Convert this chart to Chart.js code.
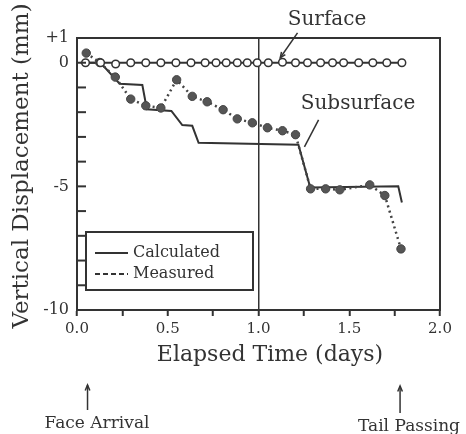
<!DOCTYPE html>
<html>
<head>
<meta charset="utf-8">
<script src="https://cdn.jsdelivr.net/npm/chart.js@4.4.0/dist/chart.umd.min.js"></script>
<style>
html, body { margin: 0; padding: 0; background: #fff; }
</style>
</head>
<body>
<canvas id="myChart" width="466" height="434"></canvas>
<script>
// Surface (open circles on the zero line)
const surfaceDays = [0.047, 0.13, 0.213, 0.296, 0.379, 0.462, 0.545, 0.628, 0.706, 0.766, 0.822, 0.883,
                     0.938, 0.993, 1.054, 1.132, 1.204, 1.27, 1.342, 1.408, 1.469, 1.552, 1.63, 1.707, 1.79];
const surfaceMm = [0, 0, -0.05, 0, 0, 0, 0, 0, 0, 0, 0, 0,
                   0, 0, 0, 0.02, 0, 0, 0, 0, 0, 0, 0, 0, 0];
const surfaceCalcDays = [0.02, 1.81];
const surfaceCalcMm = [0, 0];

// Subsurface
const subCalcDays = [0.05, 0.13, 0.235, 0.36, 0.385, 0.52, 0.58, 0.635, 0.67, 1.22, 1.285, 1.77, 1.79];
const subCalcMm = [0, 0, -0.85, -0.9, -1.88, -1.95, -2.52, -2.55, -3.24, -3.32, -5.05, -5.0, -5.65];
const subMeasDays = [0.051, 0.125, 0.211, 0.296, 0.379, 0.462, 0.549, 0.635, 0.717, 0.805, 0.883,
                     0.966, 1.049, 1.132, 1.204, 1.287, 1.37, 1.448, 1.613, 1.696, 1.785];
const subMeasMm = [0.39, 0.01, -0.58, -1.47, -1.74, -1.83, -0.69, -1.36, -1.58, -1.90, -2.27,
                   -2.43, -2.63, -2.75, -2.91, -5.10, -5.10, -5.14, -4.94, -5.37, -7.53];

const yLabels = {'1': '+1', '0': '0', '-5': '-5', '-10': '-10'};
const legendLabels = ['Calculated', 'Measured'];

const ink = '#333';
const serif = '"DejaVu Serif", "Liberation Serif", serif';

function pts(xs, ys) {
    return xs.map((x, i) => ({x: x, y: ys[i]}));
}

function arrow(ctx, x1, y1, x2, y2) {
    // line from (x1,y1) to (x2,y2) with head at (x2,y2)
    ctx.beginPath();
    ctx.moveTo(x1, y1);
    ctx.lineTo(x2, y2);
    ctx.stroke();
    const a = Math.atan2(y2 - y1, x2 - x1);
    ctx.beginPath();
    ctx.moveTo(x2 - 6 * Math.cos(a - 0.4), y2 - 6 * Math.sin(a - 0.4));
    ctx.lineTo(x2, y2);
    ctx.lineTo(x2 - 6 * Math.cos(a + 0.4), y2 - 6 * Math.sin(a + 0.4));
    ctx.stroke();
}

const decor = {
    id: 'decor',
    afterDraw(chart) {
        const ctx = chart.ctx;
        const area = chart.chartArea;
        const xs = chart.scales.x;
        const ys = chart.scales.y;
        ctx.save();
        ctx.strokeStyle = ink;
        ctx.fillStyle = ink;
        ctx.lineWidth = 2;

        // frame
        ctx.strokeRect(area.left, area.top, area.right - area.left, area.bottom - area.top);

        // inward y ticks
        ys.ticks.forEach(t => {
            const py = ys.getPixelForValue(t.value);
            ctx.beginPath();
            ctx.moveTo(area.left, py);
            ctx.lineTo(area.left + 9, py);
            ctx.stroke();
        });

        // legend box
        const lx = area.left + 9, ly = 232;
        ctx.strokeRect(lx, ly, 167, 58);
        ctx.font = '16px ' + serif;
        ctx.textBaseline = 'middle';
        ctx.textAlign = 'left';
        ctx.beginPath();
        ctx.moveTo(lx + 9, ly + 21);
        ctx.lineTo(lx + 42, ly + 21);
        ctx.stroke();
        ctx.setLineDash([5, 3]);
        ctx.beginPath();
        ctx.moveTo(lx + 9, ly + 42);
        ctx.lineTo(lx + 42, ly + 42);
        ctx.stroke();
        ctx.setLineDash([]);
        ctx.fillText(legendLabels[0], lx + 47, ly + 21);
        ctx.fillText(legendLabels[1], lx + 47, ly + 42);

        // curve labels
        ctx.font = '20px ' + serif;
        ctx.textAlign = 'center';
        ctx.fillText('Surface', 327, 20);
        ctx.fillText('Subsurface', 358, 104);
        ctx.lineWidth = 1.5;
        arrow(ctx, xs.getPixelForValue(1.215), ys.getPixelForValue(1.21),
                   xs.getPixelForValue(1.12), ys.getPixelForValue(0.2));
        ctx.beginPath();
        ctx.moveTo(xs.getPixelForValue(1.331), ys.getPixelForValue(-2.31));
        ctx.lineTo(xs.getPixelForValue(1.253), ys.getPixelForValue(-3.4));
        ctx.stroke();

        // axis titles
        ctx.font = '22px ' + serif;
        ctx.fillText('Elapsed Time (days)', 270, 355);
        ctx.save();
        ctx.translate(22, 166);
        ctx.rotate(-Math.PI / 2);
        ctx.font = '23px ' + serif;
        ctx.fillText('Vertical Displacement (mm)', 0, 0);
        ctx.restore();

        // face arrival / tail passing
        ctx.font = '17px ' + serif;
        const fx = xs.getPixelForValue(0.058);
        const tx = xs.getPixelForValue(1.78);
        arrow(ctx, fx, 410, fx, 385);
        arrow(ctx, tx, 413, tx, 386);
        ctx.fillText('Face Arrival', 97, 424);
        ctx.fillText('Tail Passing', 409, 427);
        ctx.restore();
    }
};

const ctx = document.getElementById('myChart').getContext('2d');
const chart = new Chart(ctx, {
    type: 'scatter',
    data: {
        datasets: [{
            label: 'Surface measured',
            data: pts(surfaceDays, surfaceMm),
            showLine: false,
            pointRadius: 3.8,
            pointBackgroundColor: '#fff',
            pointBorderColor: ink,
            pointBorderWidth: 1.5,
            order: 0
        }, {
            label: 'Surface calculated',
            data: pts(surfaceCalcDays, surfaceCalcMm),
            showLine: true,
            borderColor: ink,
            borderWidth: 2,
            pointRadius: 0,
            order: 3
        }, {
            label: 'Subsurface calculated',
            data: pts(subCalcDays, subCalcMm),
            showLine: true,
            borderColor: ink,
            borderWidth: 2,
            pointRadius: 0,
            order: 2
        }, {
            label: 'Subsurface measured',
            data: pts(subMeasDays, subMeasMm),
            showLine: true,
            borderColor: '#444',
            borderWidth: 2.5,
            borderDash: [2, 3.5],
            pointRadius: 4.2,
            pointBackgroundColor: '#555',
            pointBorderColor: '#444',
            pointBorderWidth: 1,
            order: 1
        }]
    },
    options: {
        responsive: false,
        animation: false,
        devicePixelRatio: 1,
        layout: {
            padding: {top: 38, right: 26, left: 0, bottom: 0}
        },
        plugins: {
            legend: {display: false},
            tooltip: {enabled: false}
        },
        scales: {
            x: {
                type: 'linear',
                min: 0,
                max: 2,
                afterFit: function(s) { s.height = 124; },
                border: {display: true, color: ink, width: 2},
                grid: {
                    drawOnChartArea: true,
                    color: function(c) { return c.tick && c.tick.value === 1 ? ink : 'rgba(0,0,0,0)'; },
                    lineWidth: 1.5,
                    tickColor: ink,
                    tickWidth: 2,
                    tickLength: 6
                },
                ticks: {
                    stepSize: 0.25,
                    color: ink,
                    padding: 4,
                    maxRotation: 0,
                    autoSkip: false,
                    font: {family: serif, size: 15},
                    callback: function(value) {
                        return value % 0.5 === 0 ? value.toFixed(1) : '';
                    }
                }
            },
            y: {
                type: 'linear',
                min: -10,
                max: 1,
                afterFit: function(s) { s.width = 77; },
                border: {display: true, color: ink, width: 2},
                grid: {display: false, drawTicks: false},
                ticks: {
                    stepSize: 1,
                    color: ink,
                    padding: 8,
                    autoSkip: false,
                    font: {family: serif, size: 16},
                    callback: function(value) {
                        return yLabels[String(value)] || '';
                    }
                }
            }
        }
    },
    plugins: [decor]
});
</script>
</body>
</html>
